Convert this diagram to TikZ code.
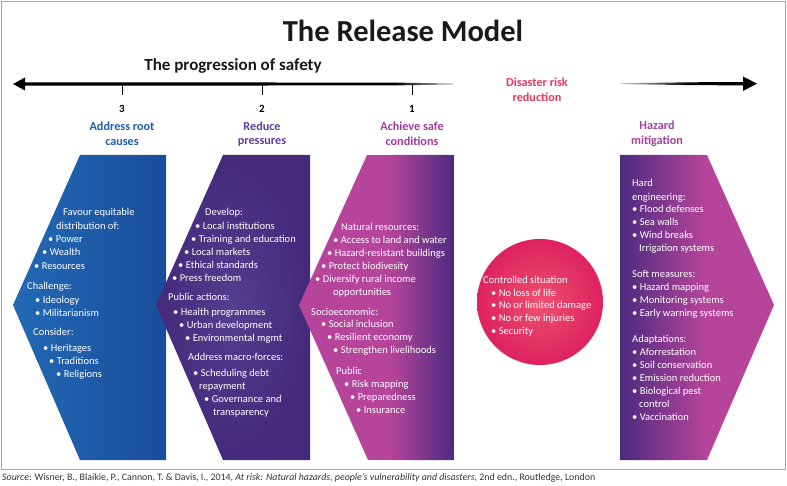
\documentclass[tikz,border=0pt]{standalone}
\usepackage{fontspec}
\setmainfont{Carlito}
\definecolor{blueL}{HTML}{1F5DAA}
\definecolor{purpL}{HTML}{5B3F99}
\definecolor{magL}{HTML}{A2399E}
\definecolor{redL}{HTML}{E8365E}
\definecolor{hazL}{HTML}{A43FA0}
\definecolor{blueA}{HTML}{2269B3}
\definecolor{blueB}{HTML}{1A4D9C}
\definecolor{purpC}{HTML}{523F8F}
\definecolor{purpO}{HTML}{45297A}
\definecolor{magA}{HTML}{B5449A}
\definecolor{purpA}{HTML}{4B2B7F}
\definecolor{circI}{HTML}{EC5070}
\definecolor{circO}{HTML}{DE2260}
\tikzset{
  body/.style={anchor=west, inner sep=0pt, text=white, text height=7pt, text depth=2pt, font=\fontsize{10.5}{12}\selectfont},
  lbl/.style={align=center, inner sep=0pt, font=\bfseries\fontsize{12.2}{14.5}\selectfont},
  num/.style={inner sep=0pt, font=\bfseries\fontsize{11}{13}\selectfont},
  tick/.style={line width=0.8pt, black},
}
\begin{document}
\begin{tikzpicture}[x=1pt,y=-1pt]
\useasboundingbox (0,0) rectangle (787,486);
\draw[black!35, line width=0.9pt] (1,1) rectangle (785,469);
% title
\node[font=\bfseries\fontsize{30.5}{33}\selectfont, text=black!90] (title) at (403,31) {The Release Model};
\node[font=\bfseries\fontsize{17}{19}\selectfont, text=black!90] (prog) at (233,66) {The progression of safety};
% left arrow
\fill[black] (13,84) -- (25,77.5) -- (25,82.3) -- (395,82.6) -- (395,85.4) -- (25,85.7) -- (25,90.5) -- cycle;
\shade[left color=black, right color=black!25] (395,82.6) -- (453,83.5) -- (453,84.5) -- (395,85.4) -- cycle;
% right arrow
\shade[left color=black!20, right color=black] (620,83.3) -- (690,82.3) -- (690,85.1) -- (620,84.1) -- cycle;
\fill[black] (690,82.3) -- (743,82) -- (743,76.5) -- (757,83.7) -- (743,91) -- (743,85.4) -- (690,85.1) -- cycle;
% ticks and numbers
\node[num] (n3) at (122,109) {3};
\node[num] (n2) at (262,109) {2};
\node[num] (n1) at (412,109) {1};
\draw[tick] (122,84) -- (122,95);
\draw[tick] (262,84) -- (262,95);
\draw[tick] (412,84) -- (412,95);
% labels
\node[lbl, text=blueL] (lA) at (122,134) {Address root\\causes};
\node[lbl, text=purpL] (lB) at (262,134) {Reduce\\pressures};
\node[lbl, text=magL] (lC) at (412,134) {Achieve safe\\conditions};
\node[lbl, text=redL] (lR) at (537,90) {Disaster risk\\reduction};
\node[lbl, text=hazL] (lD) at (657,134) {Hazard\\mitigation};
% shape A
\shade[left color=blueA, right color=blueB] (80,155) -- (166,155) -- (166,460) -- (80,460) -- (13,305) -- cycle;
% shape B
\shade[inner color=purpC, outer color=purpO] (223,155) -- (310,155) -- (310,460) -- (223,460) -- (156,305) -- cycle;
% shape C
\begin{scope}
\clip (367,155) -- (454,155) -- (454,460) -- (368,460) -- (299,305) -- cycle;
\fill[magA] (299,155) rectangle (454,460);
\shade[left color=magA, right color=purpA] (390,155) rectangle (454.5,460);
\end{scope}
% shape D
\begin{scope}
\clip (620,155) -- (707,155) -- (774,305) -- (707,460) -- (620,460) -- cycle;
\fill[magA] (620,155) rectangle (774,460);
\shade[left color=purpA, right color=magA] (619.5,155) rectangle (705,460);
\end{scope}
% circle
\shade[inner color=circI, outer color=circO] (540,302) circle (63);
% texts
\foreach \x/\y/\t [count=\i] in {63/213/Favour equitable, 56/227/distribution of:, 48/240/• Power, 42/253/• Wealth, 34/267/• Resources, 27/287/Challenge:, 35/301/• Ideology, 35/314/• Militarianism, 33/333/Consider:, 43/349/• Heritages, 49/362/• Traditions, 56/375/• Religions}
  \node[body] (a\i) at (\x,\y) {\t};
\foreach \x/\y/\t [count=\i] in {205/213/Develop:, 195/227/• Local institutions, 191/240/• Training and education, 184/253/• Local markets, 178/266/• Ethical standards, 172/279/• Press freedom, 168/298/Public actions:, 173/313/• Health programmes, 179/326/• Urban development, 185/339/• Environmental mgmt, 188/358/Address macro-forces:, 193/374/• Scheduling debt, 199/387/repayment, 204/400/• Governance and, 213/413/transparency}
  \node[body] (b\i) at (\x,\y) {\t};
\foreach \x/\y/\t [count=\i] in {341/228/Natural resources:, 333/241/• Access to land and water, 327/254/• Hazard-resistant buildings, 321/267/• Protect biodivesity, 315/280/• Diversify rural income, 333/293/opportunities, 311/313/Socioeconomic:, 321/325/• Social inclusion, 327/338/• Resilient economy, 333/351/• Strengthen livelihoods, 336/372/Public, 344/385/• Risk mapping, 350/398/• Preparedness, 356/411/• Insurance}
  \node[body] (c\i) at (\x,\y) {\t};
\foreach \x/\y/\t [count=\i] in {483/281/Controlled situation, 491/294/• No loss of life, 491/306/• No or limited damage, 491/319/• No or few injuries, 491/332/• Security}
  \node[body] (r\i) at (\x,\y) {\t};
\foreach \x/\y/\t [count=\i] in {632/184/Hard, 632/198/engineering:, 632/210/• Flood defenses, 632/223/• Sea walls, 632/236/• Wind breaks, 639/249/Irrigation systems, 632/275/Soft measures:, 632/288/• Hazard mapping, 632/301/• Monitoring systems, 632/314/• Early warning systems, 632/340/Adaptations:, 632/353/• Aforrestation, 632/366/• Soil conservation, 632/379/• Emission reduction, 632/392/• Biological pest, 639/405/control, 632/418/• Vaccination}
  \node[body] (d\i) at (\x,\y) {\t};
% source
\node[anchor=west, inner sep=0pt, text=black!80, font=\fontsize{9.9}{11}\selectfont] (src) at (2,478) {\textit{Source}: Wisner, B., Blaikie, P., Cannon, T. \& Davis, I., 2014, \textit{At risk: Natural hazards, people’s vulnerability and disasters}, 2nd edn., Routledge, London};
\end{tikzpicture}
\end{document}
